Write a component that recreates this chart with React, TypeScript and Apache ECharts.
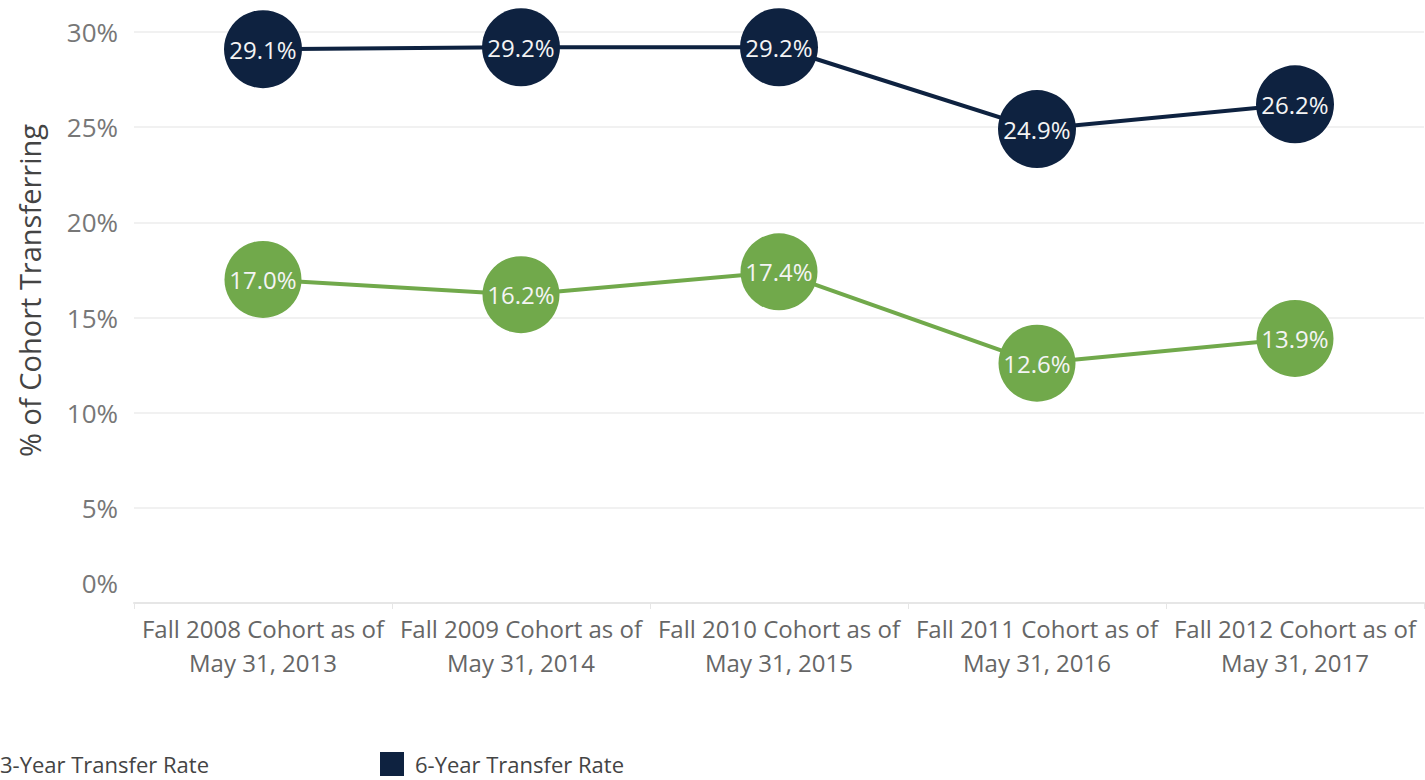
import React, { useEffect, useRef } from "react";
import * as echarts from "echarts";

const categories = [
  "Fall 2008 Cohort as of\nMay 31, 2013",
  "Fall 2009 Cohort as of\nMay 31, 2014",
  "Fall 2010 Cohort as of\nMay 31, 2015",
  "Fall 2011 Cohort as of\nMay 31, 2016",
  "Fall 2012 Cohort as of\nMay 31, 2017",
];
const threeYear = [17.0, 16.2, 17.4, 12.6, 13.9];
const sixYear = [29.1, 29.2, 29.2, 24.9, 26.2];
const seriesNames = ["3-Year Transfer Rate", "6-Year Transfer Rate"];
const yTitle = "% of Cohort Transferring";

const GREEN = "#71a94b";
const NAVY = "#0e2240";
const FONT = "'Open Sans', sans-serif";

export default function App() {
  const ref = useRef<HTMLDivElement>(null);
  useEffect(() => {
    if (!ref.current) return;
    const chart = echarts.init(ref.current, null, { renderer: "svg" });
    const labelCfg = {
      show: true,
      position: "inside",
      color: "#f4f4f4",
      fontSize: 24,
      fontFamily: FONT,
      formatter: (p: any) => p.value.toFixed(1) + "%",
    };
    const legendText = {
      fontSize: 22,
      lineHeight: 24,
      color: "#444",
      fontFamily: FONT,
      padding: [0, 0, 0, 6],
    };
    chart.setOption({
      animation: false,
      backgroundColor: "#ffffff",
      grid: { left: 134, right: 1, top: 32, bottom: 177, containLabel: false },
      legend: [
        {
          data: [seriesNames[0]],
          left: -35,
          top: 752,
          padding: 0,
          itemWidth: 24,
          itemHeight: 24,
          icon: "rect",
          textStyle: legendText,
        },
        {
          data: [seriesNames[1]],
          left: 380,
          top: 752,
          padding: 0,
          itemWidth: 24,
          itemHeight: 24,
          icon: "rect",
          textStyle: legendText,
        },
      ],
      xAxis: {
        type: "category",
        data: categories,
        boundaryGap: true,
        axisLine: { show: true, lineStyle: { color: "#e6e6e6", width: 2 } },
        axisTick: { show: true, length: 6, lineStyle: { color: "#e6e6e6" } },
        axisLabel: {
          color: "#666",
          fontSize: 24,
          fontFamily: FONT,
          lineHeight: 34,
          margin: 8,
          interval: 0,
        },
      },
      yAxis: {
        type: "value",
        min: 0,
        max: 30,
        interval: 5,
        name: yTitle,
        nameLocation: "middle",
        nameGap: 90,
        nameTextStyle: {
          fontSize: 29,
          color: "#444",
          fontFamily: FONT,
          padding: [0, 0, 0, 54],
        },
        axisLine: { show: false },
        axisTick: { show: false },
        splitLine: { lineStyle: { color: "#ececec", width: 1.5 } },
        axisLabel: {
          color: "#777",
          fontSize: 26,
          fontFamily: FONT,
          margin: 16,
          formatter: (v: number) => (v === 0 ? "{z|0%}" : v + "%"),
          rich: {
            z: { fontSize: 26, color: "#777", fontFamily: FONT, padding: [0, 0, 40, 0] },
          },
        },
      },
      series: [
        {
          name: seriesNames[0],
          type: "line",
          data: threeYear,
          color: GREEN,
          symbol: "circle",
          symbolSize: 77,
          clip: false,
          lineStyle: { width: 4, color: GREEN },
          itemStyle: { color: GREEN },
          label: labelCfg,
          z: 2,
        },
        {
          name: seriesNames[1],
          type: "line",
          data: sixYear,
          color: NAVY,
          symbol: "circle",
          symbolSize: 78,
          clip: false,
          lineStyle: { width: 4, color: NAVY },
          itemStyle: { color: NAVY },
          label: labelCfg,
          z: 3,
        },
      ],
    });
    return () => chart.dispose();
  }, []);
  return (
    <div
      ref={ref}
      style={{ position: "absolute", left: 0, top: 0, width: 1425, height: 780 }}
    />
  );
}
